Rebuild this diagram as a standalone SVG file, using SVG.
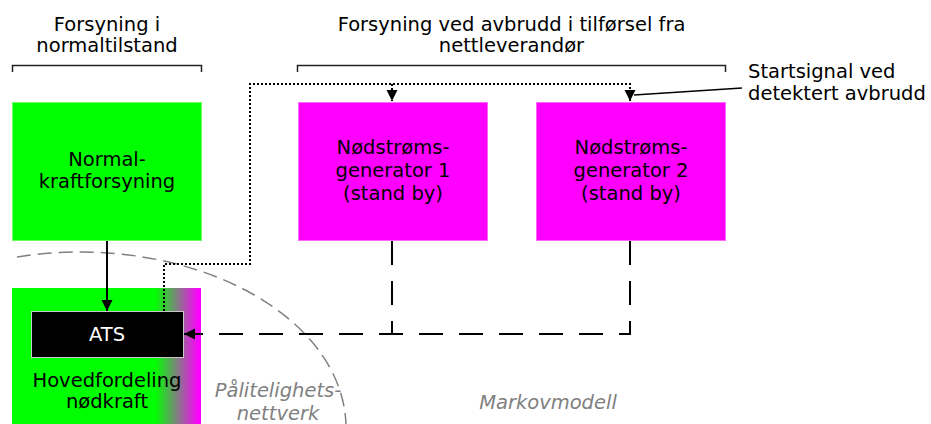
<svg xmlns="http://www.w3.org/2000/svg" width="931" height="424" viewBox="0 0 931 424">
  <style>
    text { font-family: "DejaVu Sans", Verdana, sans-serif; font-size: 19.5px; fill: #000; text-anchor: middle; }
    .left { text-anchor: start; }
    .note { fill: #808080; font-style: italic; }
    .ats { fill: #fff; }
    .green { fill: #00ff00; stroke: #66ff66; stroke-width: 1; }
    .gen { fill: #ff00ff; stroke: #ff66ff; stroke-width: 1; }
    .bracket { fill: none; stroke: #222; stroke-width: 1.5; }
    .solid { fill: none; stroke: #000; stroke-width: 2; }
    .dotted { fill: none; stroke: #000; stroke-width: 2; stroke-dasharray: 2 2; }
    .dashed { fill: none; stroke: #000; stroke-width: 2; stroke-dasharray: 24 16; }
    .zone { fill: none; stroke: #808080; stroke-width: 1.5; stroke-dasharray: 14 7; }
  </style>
  <defs>
    <marker id="arrow" markerUnits="userSpaceOnUse" markerWidth="12" markerHeight="12" refX="11" refY="5.5" orient="auto">
      <path d="M0,0 L11,5.5 L0,11 z" fill="#000"/>
    </marker>
    <linearGradient id="mix" gradientUnits="userSpaceOnUse" x1="155" y1="0" x2="199" y2="0">
      <stop offset="0" stop-color="#00ff00"/>
      <stop offset="1" stop-color="#ff00ff"/>
    </linearGradient>
  </defs>

  <!-- headings and brackets -->
  <g id="heading-normal">
    <text x="107" y="31">Forsyning i</text>
    <text x="107" y="52">normaltilstand</text>
    <path class="bracket" d="M12.5,72 V65.5 H201.5 V72"/>
  </g>
  <g id="heading-outage">
    <text x="511.5" y="31">Forsyning ved avbrudd i tilførsel fra</text>
    <text x="511.5" y="52">nettleverandør</text>
    <path class="bracket" d="M297.5,72 V65.5 H725.5 V72"/>
  </g>
  <g id="startsignal-label">
    <text class="left" x="748" y="78">Startsignal ved</text>
    <text class="left" x="748" y="99.5">detektert avbrudd</text>
    <path d="M634,95 L742,88" fill="none" stroke="#000" stroke-width="1.5"/>
  </g>

  <!-- reliability network boundary -->
  <g id="zone">
    <path class="zone" d="M17,257 A266,176 0 0 1 346,430"/>
    <text class="note" x="278" y="397">Pålitelighets-</text>
    <text class="note" x="278" y="420">nettverk</text>
    <text class="note" x="548" y="409">Markovmodell</text>
  </g>

  <!-- nodes -->
  <g id="normalkraft">
    <rect class="green" x="12.5" y="102.5" width="189" height="138"/>
    <text x="107" y="166">Normal-</text>
    <text x="107" y="188">kraftforsyning</text>
  </g>
  <g id="generator1">
    <rect class="gen" x="298.5" y="102.5" width="189" height="138"/>
    <text x="393" y="154">Nødstrøms-</text>
    <text x="393" y="177">generator 1</text>
    <text x="393" y="200">(stand by)</text>
  </g>
  <g id="generator2">
    <rect class="gen" x="536.5" y="102.5" width="189" height="138"/>
    <text x="631" y="154">Nødstrøms-</text>
    <text x="631" y="177">generator 2</text>
    <text x="631" y="200">(stand by)</text>
  </g>
  <g id="hovedfordeling">
    <rect x="12" y="288" width="189" height="140" fill="url(#mix)"/>
    <text x="107" y="387">Hovedfordeling</text>
    <text x="107" y="408">nødkraft</text>
  </g>
  <g id="ats">
    <rect x="31.5" y="311.5" width="152" height="46" fill="#000" stroke="#c8c8c8" stroke-width="1"/>
    <text class="ats" x="107" y="341">ATS</text>
  </g>

  <!-- connectors -->
  <g id="connectors">
    <path class="solid" d="M107,241 V311" marker-end="url(#arrow)"/>
    <path class="dotted" d="M164,311 V264 H250 V84 H630 V101" marker-end="url(#arrow)"/>
    <path class="dotted" d="M392,84 V101" marker-end="url(#arrow)"/>
    <path class="dashed" d="M392,241 V334"/>
    <path class="dashed" d="M630,241 V334 H184" marker-end="url(#arrow)"/>
  </g>
</svg>
